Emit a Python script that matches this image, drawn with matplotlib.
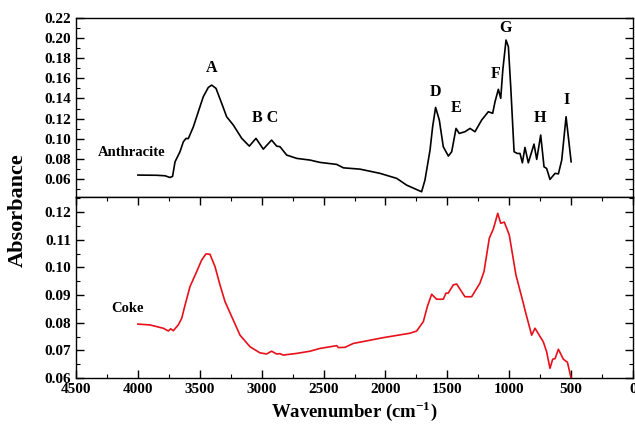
import numpy as np
import matplotlib.pyplot as plt
from matplotlib.ticker import MultipleLocator

plt.rcParams["font.family"] = ["Liberation Serif", "DejaVu Serif"]
plt.rcParams["font.weight"] = "bold"
plt.rcParams["mathtext.fontset"] = "custom"
plt.rcParams["mathtext.rm"] = "Liberation Serif:bold"
plt.rcParams["mathtext.bf"] = "Liberation Serif:bold"

# anthracite spectrum (wavenumber, absorbance)
anth_wn = [4000, 3850, 3781, 3741, 3720, 3700, 3660, 3633, 3611, 3593, 3552, 3512,
           3472, 3431, 3404, 3369, 3323, 3283, 3229, 3161, 3100, 3046, 2987, 2920,
           2879, 2852, 2798, 2717, 2609, 2529, 2394, 2340, 2206, 2044, 1909, 1829,
           1708, 1681, 1640, 1619, 1595, 1565, 1533, 1492, 1465, 1430, 1404, 1358,
           1317, 1277, 1223, 1169, 1134, 1115, 1088, 1069, 1052, 1026, 1007, 988,
           961, 935, 913, 894, 873, 846, 800, 778, 746, 719, 698, 671, 630, 603,
           576, 541, 500]
anth_ab = [0.0638, 0.0636, 0.0631, 0.0614, 0.0625, 0.0770, 0.0870, 0.0969, 0.1003,
           0.1000, 0.1118, 0.1268, 0.1417, 0.1510, 0.1533, 0.1500, 0.1351, 0.1218,
           0.1135, 0.1003, 0.0926, 0.1003, 0.0896, 0.0986, 0.0926, 0.0920, 0.0837,
           0.0804, 0.0787, 0.0764, 0.0744, 0.0710, 0.0697, 0.0655, 0.0605, 0.0538,
           0.0472, 0.0588, 0.0886, 0.1118, 0.1311, 0.1185, 0.0920, 0.0827, 0.0870,
           0.1102, 0.1052, 0.1069, 0.1102, 0.1069, 0.1185, 0.1268, 0.1252, 0.1367,
           0.1491, 0.1401, 0.1683, 0.1981, 0.1914, 0.1516, 0.0870, 0.0853, 0.0853,
           0.0760, 0.0913, 0.0760, 0.0946, 0.0794, 0.1036, 0.0720, 0.0704, 0.0595,
           0.0655, 0.0650, 0.0787, 0.1218, 0.0770]

# coke spectrum
coke_wn = [4000, 3902, 3795, 3754, 3735, 3714, 3674, 3646, 3619, 3579, 3525, 3485,
           3450, 3418, 3377, 3337, 3296, 3242, 3175, 3094, 3014, 2960, 2920, 2880,
           2852, 2826, 2717, 2609, 2529, 2394, 2380, 2327, 2260, 2018, 1802, 1748,
           1694, 1662, 1627, 1587, 1533, 1511, 1493, 1452, 1425, 1358, 1304, 1237,
           1204, 1161, 1128, 1093, 1069, 1040, 1000, 946, 886, 873, 819, 792, 725,
           698, 671, 649, 630, 603, 563, 530, 500]
coke_ab = [0.0795, 0.0792, 0.0780, 0.0770, 0.0778, 0.0771, 0.0792, 0.0816, 0.0864,
           0.0931, 0.0985, 0.1027, 0.1049, 0.1048, 0.1003, 0.0937, 0.0876, 0.0822,
           0.0755, 0.0713, 0.0691, 0.0687, 0.0697, 0.0687, 0.0688, 0.0683, 0.0689,
           0.0697, 0.0707, 0.0717, 0.0710, 0.0711, 0.0725, 0.0746, 0.0762, 0.0770,
           0.0804, 0.0858, 0.0903, 0.0885, 0.0885, 0.0907, 0.0907, 0.0937, 0.0940,
           0.0894, 0.0894, 0.0943, 0.0985, 0.1106, 0.1140, 0.1196, 0.1160, 0.1164,
           0.1118, 0.0973, 0.0870, 0.0846, 0.0755, 0.0780, 0.0731, 0.0695, 0.0635,
           0.0668, 0.0670, 0.0704, 0.0668, 0.0657, 0.0599]

peak_labels = ["A", "B C", "D", "E", "F", "G", "H", "I"]
peak_wn = [3401, 2973, 1600, 1430, 1107, 1027, 752, 534]
peak_ab = [0.1702, 0.1205, 0.1464, 0.1305, 0.1643, 0.2100, 0.1205, 0.1384]

fig = plt.figure(figsize=(6.35, 4.24), dpi=100)
ax1 = fig.add_axes([0.1197, 0.5354, 0.8772, 0.4221])
ax2 = fig.add_axes([0.1197, 0.1085, 0.8772, 0.4269])

ax1.plot(anth_wn, anth_ab, color="black", lw=1.2)
ax2.plot(coke_wn, coke_ab, color="#e8101a", lw=1.2)

ax1.set_xlim(4500, 0)
ax2.set_xlim(4500, 0)
ax1.set_ylim(0.042, 0.22)
ax2.set_ylim(0.06, 0.1255)

ax1.yaxis.set_minor_locator(MultipleLocator(0.01))
ax1.set_yticks(np.arange(0.06, 0.2201, 0.02))
ax2.yaxis.set_major_locator(MultipleLocator(0.01))
ax2.yaxis.set_minor_locator(MultipleLocator(0.005))
for ax in (ax1, ax2):
    ax.xaxis.set_major_locator(MultipleLocator(500))
    ax.xaxis.set_minor_locator(MultipleLocator(250))
    ax.yaxis.set_major_formatter(plt.FormatStrFormatter("%.2f"))
    ax.tick_params(which="both", direction="in", right=True, top=False,
                   labelsize=11)
    ax.tick_params(which="major", length=6, width=1)
    ax.tick_params(which="minor", length=3, width=0.8)
    for s in ax.spines.values():
        s.set_linewidth(1.0)
ax1.tick_params(axis="x", which="both", bottom=False, labelbottom=False)
ax2.tick_params(axis="x", which="both", top=True)

for lab, x, y in zip(peak_labels, peak_wn, peak_ab):
    ax1.text(x, y, lab, fontsize=11.5, fontweight="bold", ha="center", va="center")
ax1.text(4048, 0.0867, "Anthracite", fontsize=10.5, fontweight="bold",
         ha="center", va="center")
ax2.text(4080, 0.0853, "Coke", fontsize=10.5, fontweight="bold",
         ha="center", va="center")

fig.text(0.028, 0.505, "Absorbance", rotation=90, fontsize=16, fontweight="bold",
         ha="center", va="center")
ax2.set_xlabel(r"Wavenumber (cm$^{\mathbf{-1}}$)", fontsize=13.5,
               fontweight="bold", labelpad=2)

fig.savefig("out.png", dpi=100)
